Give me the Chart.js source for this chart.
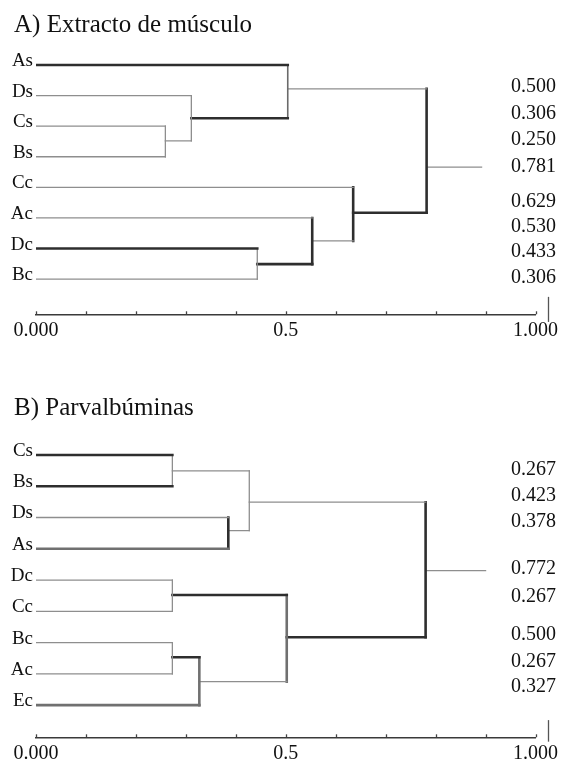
<!DOCTYPE html>
<html>
<head>
<meta charset="utf-8">
<script src="https://cdn.jsdelivr.net/npm/chart.js@4.4.0/dist/chart.umd.min.js"></script>
<style>
  body { margin: 0; background: #fff; }
  .panel { position: absolute; left: 0; width: 562px; height: 380px; }
  .panel canvas { position: absolute; left: 0; top: 0; }
  .title { position: absolute; left: 14px; font: 25px "Liberation Serif", "Times New Roman", serif; line-height: 1; color: #111; white-space: nowrap; }
</style>
</head>
<body>
<div class="panel" style="top:0">
  <canvas id="chartA" width="562" height="380"></canvas>
  <div class="title" style="top:11px">A) Extracto de músculo</div>
</div>
<div class="panel" style="top:380px">
  <canvas id="chartB" width="562" height="380"></canvas>
  <div class="title" style="top:14px">B) Parvalbúminas</div>
</div>
<script>
// A) Extracto de músculo
const leavesA = ["As", "Ds", "Cs", "Bs", "Cc", "Ac", "Dc", "Bc"];
const joinsA = [["Cs", "Bs"], ["Ds", 0], ["As", 1], ["Dc", "Bc"], ["Ac", 3], ["Cc", 4], [2, 5]];
const heightsA = [0.259, 0.311, 0.504, 0.443, 0.553, 0.635, 0.782];
const rowsA = [2.48, 1.74, 0.78, 6.51, 5.75, 4.83, 3.34];
const stubA = 0.892;
const sideLabelsA = ["0.500", "0.306", "0.250", "0.781", "0.629", "0.530", "0.433", "0.306"];
const sideRowsA = [0.71, 1.58, 2.45, 3.32, 4.47, 5.28, 6.12, 6.97];

// B) Parvalbúminas
const leavesB = ["Cs", "Bs", "Ds", "As", "Dc", "Cc", "Bc", "Ac", "Ec"];
const joinsB = [["Cs", "Bs"], ["Ds", "As"], [0, 1], ["Dc", "Cc"], ["Bc", "Ac"], [4, "Ec"], [3, 5], [2, 6]];
const heightsB = [0.273, 0.385, 0.427, 0.273, 0.273, 0.327, 0.502, 0.780];
const rowsB = [0.51, 2.42, 1.51, 4.48, 6.47, 7.25, 5.83, 3.70];
const stubB = 0.90;
const sideLabelsB = ["0.267", "0.423", "0.378", "0.772", "0.267", "0.500", "0.267", "0.327"];
const sideRowsB = [0.48, 1.31, 2.13, 3.63, 4.53, 5.76, 6.61, 7.41];

// x axis
const xTicks = [0, 0.1, 0.2, 0.3, 0.4, 0.5, 0.6, 0.7, 0.8, 0.9, 1];
const xTickLabels = ["0.000", "", "", "", "", "0.5", "", "", "", "", "1.000"];

// which branches are drawn heavy (everything else thin grey)
const strokesA = { As: "dark", n1: "dark", v2: "mid", Dc: "dark", n3: "dark", v4: "dark", v5: "dark", n5: "dark", v6: "dark" };
const strokesB = { Cs: "dark", Bs: "dark", As: "grey", v1: "dark", n3: "dark", n4: "dark", Ec: "grey", v5: "grey", v6: "grey", n6: "dark", v7: "dark" };

const lineStyles = {
  thin: { color: "#8e8e8e", width: 1.3 },
  mid: { color: "#6a6a6a", width: 1.6 },
  dark: { color: "#2e2e2e", width: 2.6 },
  grey: { color: "#707070", width: 2.6 }
};

const serif = '"Liberation Serif", "Times New Roman", serif';

function buildSegments(leaves, joins, heights, rows, stub, strokes) {
  const segs = [];
  const pos = id => typeof id === "number"
    ? { x: heights[id], y: rows[id], key: "n" + id }
    : { x: 0, y: leaves.indexOf(id), key: id };

  joins.forEach((pair, i) => {
    const a = pos(pair[0]);
    const b = pos(pair[1]);
    const h = heights[i];
    segs.push({ key: a.key, pts: [{ x: a.x, y: a.y }, { x: h, y: a.y }] });
    segs.push({ key: b.key, pts: [{ x: b.x, y: b.y }, { x: h, y: b.y }] });
    segs.push({ key: "v" + i, pts: [{ x: h, y: a.y }, { x: h, y: b.y }] });
  });
  const r = joins.length - 1;
  segs.push({ key: "stub", pts: [{ x: heights[r], y: rows[r] }, { x: stub, y: rows[r] }] });

  return segs.map(s => {
    const st = lineStyles[strokes[s.key] || "thin"];
    return {
      data: s.pts,
      showLine: true,
      borderColor: st.color,
      borderWidth: st.width,
      borderCapStyle: "square",
      pointRadius: 0,
      pointHoverRadius: 0
    };
  });
}

// side values, small tick marks above the axis and the little bar by 1.000
const sidePlugin = {
  id: "sideLabels",
  afterDraw(chart, args, opts) {
    const ctx = chart.ctx;
    const xs = chart.scales.x;
    const ys = chart.scales.y;
    const area = chart.chartArea;
    ctx.save();

    ctx.strokeStyle = "#444";
    ctx.lineWidth = 1.3;
    xTicks.forEach(v => {
      const px = Math.round(xs.getPixelForValue(v)) + 0.5;
      ctx.beginPath();
      ctx.moveTo(px, area.bottom);
      ctx.lineTo(px, area.bottom - 3);
      ctx.stroke();
    });

    ctx.fillStyle = "#111";
    ctx.font = "20px " + serif;
    ctx.textAlign = "left";
    ctx.textBaseline = "middle";
    const lx = xs.getPixelForValue(opts.textAt);
    opts.labels.forEach((t, i) => {
      ctx.fillText(t, lx, ys.getPixelForValue(opts.rows[i]));
    });

    ctx.strokeStyle = "#555";
    ctx.lineWidth = 1.3;
    const bx = Math.round(xs.getPixelForValue(opts.barAt)) + 0.5;
    ctx.beginPath();
    ctx.moveTo(bx, ys.getPixelForValue(opts.barRows[0]));
    ctx.lineTo(bx, ys.getPixelForValue(opts.barRows[1]));
    ctx.stroke();
    ctx.restore();
  }
};

function makeChart(id, leaves, joins, heights, rows, stub, strokes, sideLabels, sideRows, layout) {
  return new Chart(document.getElementById(id), {
    type: "scatter",
    data: { datasets: buildSegments(leaves, joins, heights, rows, stub, strokes) },
    options: {
      responsive: false,
      animation: false,
      events: [],
      layout: { padding: { left: 0, right: 25, top: layout.top, bottom: layout.bottom } },
      plugins: {
        legend: { display: false },
        tooltip: { enabled: false },
        sideLabels: { labels: sideLabels, rows: sideRows, textAt: 0.951, barAt: 1.025, barRows: layout.barRows }
      },
      scales: {
        x: {
          type: "linear",
          min: 0,
          max: 1,
          afterFit: s => { s.height = layout.axisH; },
          afterBuildTicks: axis => { axis.ticks = xTicks.map(v => ({ value: v })); },
          grid: { display: false, drawTicks: false },
          border: { display: true, color: "#3a3a3a", width: 1.5 },
          ticks: {
            autoSkip: false,
            maxRotation: 0,
            padding: 4,
            color: "#111",
            font: { family: serif, size: 20 },
            callback: (v, i) => xTickLabels[i]
          }
        },
        y: {
          type: "linear",
          reverse: true,
          min: -0.7,
          max: layout.yMax,
          afterFit: s => { s.width = 36; },
          afterBuildTicks: axis => { axis.ticks = leaves.map((n, i) => ({ value: i })); },
          grid: { display: false, drawTicks: false },
          border: { display: false },
          ticks: {
            autoSkip: false,
            padding: 3,
            labelOffset: -4,
            color: "#111",
            font: { family: serif, size: 19 },
            callback: v => leaves[v]
          }
        }
      }
    },
    plugins: [sidePlugin]
  });
}

makeChart("chartA", leavesA, joinsA, heightsA, rowsA, stubA, strokesA, sideLabelsA, sideRowsA,
  { top: 43.6, bottom: 25.7, axisH: 40, yMax: 8.15, barRows: [7.58, 8.4] });
makeChart("chartB", leavesB, joinsB, heightsB, rowsB, stubB, strokesB, sideLabelsB, sideRowsB,
  { top: 53.1, bottom: 0, axisH: 22.7, yMax: 9.03, barRows: [8.48, 9.17] });
</script>
</body>
</html>
